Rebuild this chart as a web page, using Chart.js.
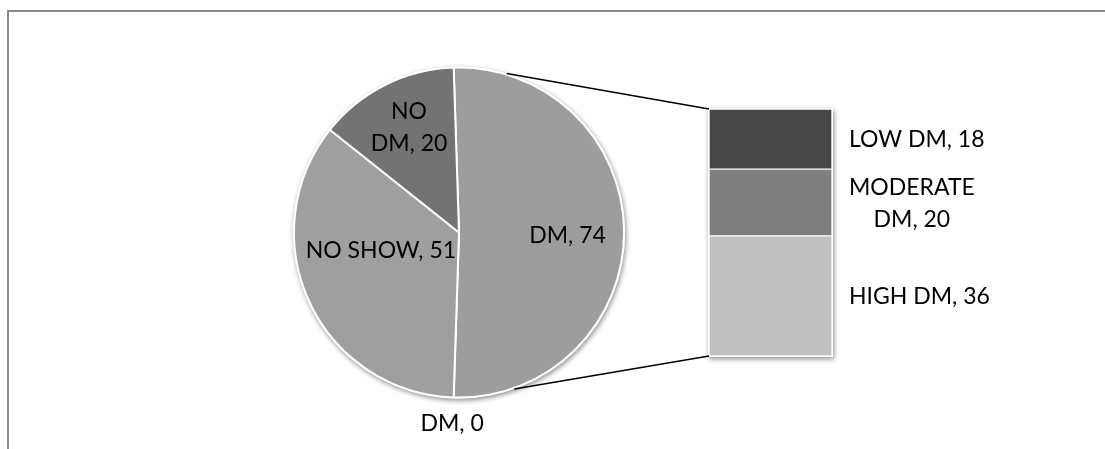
<!DOCTYPE html>
<html>
<head>
<meta charset="utf-8">
<script src="https://cdn.jsdelivr.net/npm/chart.js@4/dist/chart.umd.min.js"></script>
<style>
  html, body { margin: 0; padding: 0; background: #fff; }
  #wrap { position: relative; width: 1105px; height: 449px; overflow: hidden; }
  #frame {
    position: absolute; left: 7px; top: 10px; width: 1200px; height: 600px;
    border-top: 2px solid #8a8a8a; border-left: 2px solid #8a8a8a; box-sizing: border-box;
  }
  canvas { position: absolute; left: 0; top: 0; }
</style>
</head>
<body>
<div id="wrap">
  <div id="frame"></div>
  <canvas id="pie" width="1105" height="449"></canvas>
  <canvas id="bar" width="1105" height="449"></canvas>
</div>
<script>
// Main pie: overall outcome counts
const pieLabels = ['DM', 'DM', 'NO SHOW', 'NO DM'];
const pieValues = [74, 0, 51, 20];
const pieColors = ['#9d9d9d', '#5a5a5a', '#9f9f9f', '#737373'];

// Breakdown of the "DM, 74" slice, shown as the stacked bar (top to bottom)
const breakdownLabels = ['LOW DM', 'MODERATE DM', 'HIGH DM'];
const breakdownValues = [18, 20, 36];
const breakdownColors = ['#474747', '#7f7f7f', '#c0c0c0'];

const FONT = '"Lato", "Liberation Sans", sans-serif';
const FONT_SIZE = 23;
const CAP = 0.717;      // cap height ratio of the label font
const LINE_GAP = 32;    // distance between wrapped label lines

function labelLines(label, value, wrap) {
  const text = label + ', ' + value;
  if (!wrap) return [text];
  const i = text.indexOf(' ');
  return [text.slice(0, i), text.slice(i + 1)];
}

// Draws lines centred on (cx, cy), where cy is the middle of the cap heights
function drawLines(ctx, lines, cx, cy) {
  const n = lines.length;
  lines.forEach((ln, k) => {
    const mid = cy + (k - (n - 1) / 2) * LINE_GAP;
    ctx.fillText(ln, cx, mid + FONT_SIZE * CAP / 2);
  });
}

// Soft drop shadow under the whole pie
const pieShadow = {
  id: 'pieShadow',
  beforeDatasetsDraw(chart) {
    const arc = chart.getDatasetMeta(0).data[0];
    if (!arc) return;
    const ctx = chart.ctx;
    ctx.save();
    ctx.shadowColor = 'rgba(0,0,0,0.45)';
    ctx.shadowBlur = 5;
    ctx.shadowOffsetX = 1;
    ctx.shadowOffsetY = 2;
    ctx.fillStyle = '#fff';
    ctx.beginPath();
    ctx.arc(arc.x, arc.y, arc.outerRadius + 1, 0, Math.PI * 2);
    ctx.fill();
    ctx.restore();
  }
};

// Slice labels, placed relative to the pie centre in units of its radius
const pieLabelPlugin = {
  id: 'pieLabels',
  afterDatasetsDraw(chart, args, opts) {
    const ctx = chart.ctx;
    const arcs = chart.getDatasetMeta(0).data;
    ctx.save();
    ctx.font = FONT_SIZE + 'px ' + FONT;
    ctx.fillStyle = '#000';
    ctx.textAlign = 'center';
    ctx.textBaseline = 'alphabetic';
    arcs.forEach((arc, i) => {
      const p = opts.placement[i];
      const r = arc.outerRadius;
      drawLines(ctx, labelLines(pieLabels[i], pieValues[i], p.wrap), arc.x + p.dx * r, arc.y + p.dy * r);
    });
    ctx.restore();
  }
};

const pieChart = new Chart(document.getElementById('pie'), {
  type: 'pie',
  data: {
    labels: pieLabels,
    datasets: [{
      data: pieValues,
      backgroundColor: pieColors,
      borderColor: '#ffffff',
      borderWidth: 2
    }]
  },
  options: {
    responsive: false,
    animation: false,
    rotation: -1.86,
    layout: { padding: { left: 293, right: 480, top: 66.5, bottom: 50.5 } },
    plugins: {
      legend: { display: false },
      tooltip: { enabled: false },
      pieLabels: {
        placement: [
          { dx: 0.658, dy: 0.012 },
          { dx: -0.042, dy: 1.152 },
          { dx: -0.473, dy: 0.106 },
          { dx: -0.303, dy: -0.642, wrap: true }
        ]
      }
    }
  },
  plugins: [pieShadow, pieLabelPlugin]
});

function barBounds(chart) {
  const metas = chart.getSortedVisibleDatasetMetas();
  const bottomEl = metas[0].data[0];
  const topEl = metas[metas.length - 1].data[0];
  return {
    left: bottomEl.x - bottomEl.width / 2,
    right: bottomEl.x + bottomEl.width / 2,
    top: topEl.y,
    bottom: bottomEl.base
  };
}

// Shadow behind the stacked bar
const barShadow = {
  id: 'barShadow',
  beforeDatasetsDraw(chart) {
    const b = barBounds(chart);
    const ctx = chart.ctx;
    ctx.save();
    ctx.shadowColor = 'rgba(0,0,0,0.45)';
    ctx.shadowBlur = 5;
    ctx.shadowOffsetX = 1;
    ctx.shadowOffsetY = 2;
    ctx.fillStyle = '#fff';
    ctx.fillRect(b.left - 1, b.top - 1, b.right - b.left + 2, b.bottom - b.top + 2);
    ctx.restore();
  }
};

// Lines joining the "DM" slice to the breakdown bar, plus the bar labels
const barDecor = {
  id: 'barDecor',
  afterDatasetsDraw(chart, args, opts) {
    const ctx = chart.ctx;
    const b = barBounds(chart);
    const arc = pieChart.getDatasetMeta(0).data[0];
    const R = arc.outerRadius + 1;
    const pt = deg => {
      const a = deg * Math.PI / 180;
      return [arc.x + R * Math.sin(a), arc.y - R * Math.cos(a)];
    };
    const p1 = pt(opts.topAngle), p2 = pt(opts.bottomAngle);
    ctx.save();
    ctx.strokeStyle = '#000';
    ctx.lineWidth = 1.5;
    ctx.beginPath();
    ctx.moveTo(p1[0], p1[1]); ctx.lineTo(b.left, b.top);
    ctx.moveTo(p2[0], p2[1]); ctx.lineTo(b.left, b.bottom);
    ctx.stroke();

    ctx.font = FONT_SIZE + 'px ' + FONT;
    ctx.fillStyle = '#000';
    ctx.textAlign = 'center';
    chart.data.datasets.forEach((ds, i) => {
      const el = chart.getDatasetMeta(i).data[0];
      const lines = labelLines(ds.label, ds.data[0], ds.wrap);
      const w = Math.max(...lines.map(l => ctx.measureText(l).width));
      const cx = b.right + opts.gap + w / 2;
      drawLines(ctx, lines, cx, (el.y + el.base) / 2);
    });
    ctx.restore();
  }
};

const barTotal = breakdownValues.reduce((s, v) => s + v, 0);

// Stack from the bottom up: last entry of the breakdown first
const barDatasets = breakdownLabels.map((label, i) => ({
  label: label,
  data: [breakdownValues[i]],
  backgroundColor: breakdownColors[i],
  borderColor: '#ffffff',
  borderWidth: 1,
  borderSkipped: false,
  wrap: label.indexOf(' ') > 0 && label.length > 8
})).reverse();

new Chart(document.getElementById('bar'), {
  type: 'bar',
  data: { labels: ['DM'], datasets: barDatasets },
  options: {
    responsive: false,
    animation: false,
    layout: { padding: { left: 709, right: 273, top: 109, bottom: 93 } },
    datasets: { bar: { barPercentage: 1, categoryPercentage: 1 } },
    scales: {
      x: { display: false, stacked: true },
      y: { display: false, stacked: true, min: 0, max: barTotal }
    },
    plugins: {
      legend: { display: false },
      tooltip: { enabled: false },
      barDecor: { topAngle: 16.7, bottomAngle: 160.5, gap: 17 }
    }
  },
  plugins: [barShadow, barDecor]
});
</script>
</body>
</html>
